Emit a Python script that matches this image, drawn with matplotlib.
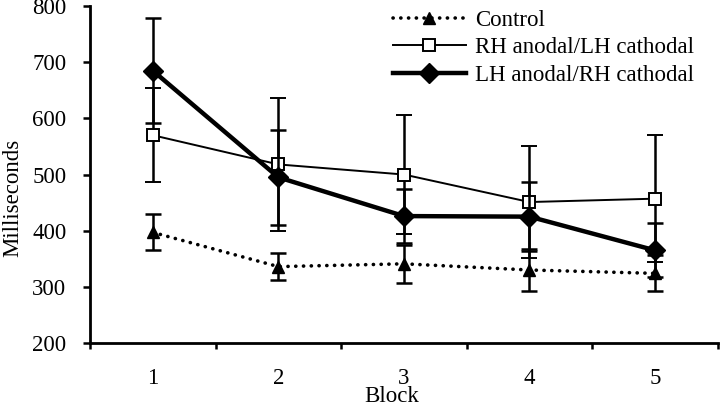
import matplotlib
matplotlib.use("Agg")
from matplotlib import pyplot as plt

blocks = [1, 2, 3, 4, 5]
block_labels = ['1', '2', '3', '4', '5']

control = [397, 336, 341, 330, 324]
control_err = [32, 24, 34, 38, 32]

rh_anodal = [570, 518, 500, 451, 457]
rh_anodal_err = [84, 119, 106, 99, 113]

lh_anodal = [685, 495, 426, 425, 365]
lh_anodal_err = [93, 85, 48, 61, 48]

plt.rcParams['font.family'] = ['Liberation Serif', 'DejaVu Serif']
plt.rcParams['font.size'] = 16.5

fig = plt.figure(figsize=(7.2, 4.04), dpi=100)
ax = fig.add_axes([0.125, 0.151, 0.872, 0.834])

ax.errorbar(blocks, control, yerr=control_err, color='black', lw=2.6,
            linestyle=(0, (0.05, 2.1)), dash_capstyle='round',
            marker='^', markersize=8, elinewidth=1.8, capsize=6, capthick=1.8,
            label='Control', zorder=3)
ax.errorbar(blocks, rh_anodal, yerr=rh_anodal_err, color='black', lw=1.4,
            marker='s', markersize=9, markerfacecolor='white', markeredgewidth=1.4,
            elinewidth=1.8, capsize=6, capthick=1.8,
            label='RH anodal/LH cathodal', zorder=3)
ax.errorbar(blocks, lh_anodal, yerr=lh_anodal_err, color='black', lw=3.2,
            marker='D', markersize=10, elinewidth=1.8, capsize=6, capthick=1.8,
            label='LH anodal/RH cathodal', zorder=4)

ax.set_xlim(0.5, 5.5)
ax.set_ylim(200, 800)
ax.set_yticks([200, 300, 400, 500, 600, 700, 800])

# major ticks sit between blocks, labels sit on the blocks
ax.set_xticks([0.5, 1.5, 2.5, 3.5, 4.5, 5.5])
ax.set_xticklabels([])
ax.set_xticks(blocks, minor=True)
ax.set_xticklabels(block_labels, minor=True)
ax.tick_params(axis='x', which='major', direction='out', length=4, width=1.8)
ax.tick_params(axis='x', which='minor', length=0, pad=18)
ax.tick_params(axis='y', direction='out', length=5, width=1.8, pad=12)

for side in ['top', 'right']:
    ax.spines[side].set_visible(False)
for side in ['left', 'bottom']:
    ax.spines[side].set_linewidth(2)

ax.set_ylabel('Milliseconds')
ax.set_xlabel('Block', va='center')
ax.xaxis.set_label_coords(0.48, -0.16)
ax.yaxis.set_label_coords(-0.106, 0.43)

handles, labels = ax.get_legend_handles_labels()
handles = [h[0] for h in handles]
ax.legend(handles, labels, loc='upper right', bbox_to_anchor=(0.995, 1.05),
          frameon=False, handlelength=3.2, handletextpad=0.4, labelspacing=0.28)

fig.savefig('out.png', dpi=100)
